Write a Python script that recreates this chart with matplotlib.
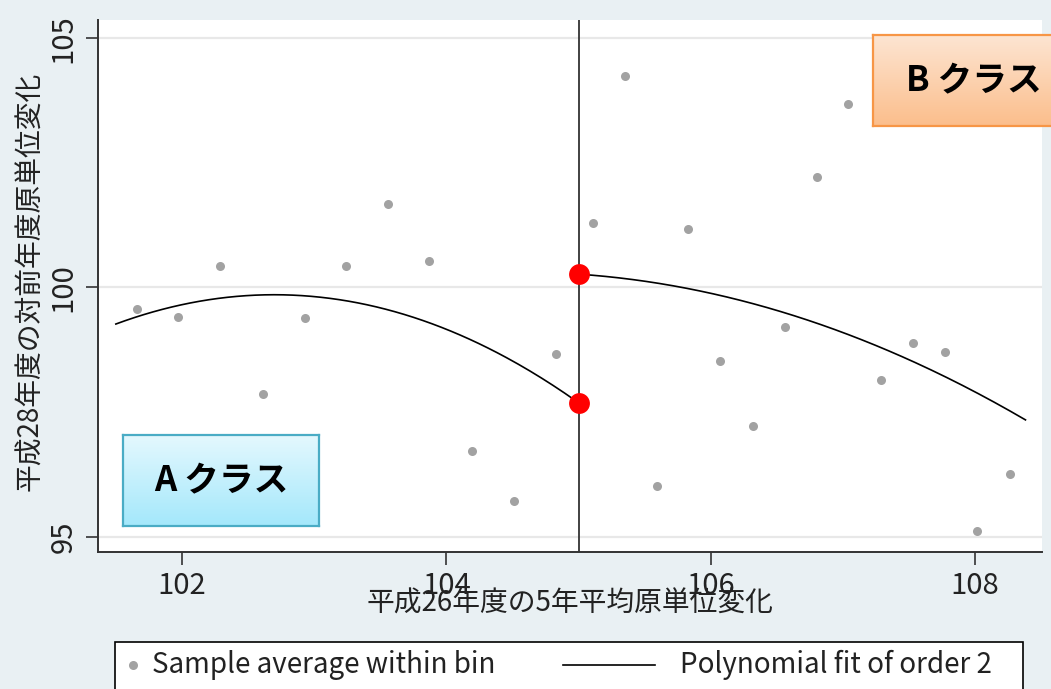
import numpy as np
import matplotlib
matplotlib.use('Agg')
import matplotlib.pyplot as plt
from matplotlib.colors import to_rgb
from matplotlib.patches import Rectangle
from matplotlib.lines import Line2D

plt.rcParams['font.family'] = ['Noto Sans CJK JP', 'DejaVu Sans']

# bin averages left / right of the cutoff
bin_x_a = [101.66, 101.97, 102.29, 102.61, 102.93, 103.24, 103.56, 103.87, 104.19, 104.51, 104.83]
bin_y_a = [99.57, 99.41, 100.43, 97.86, 99.39, 100.43, 101.67, 100.53, 96.72, 95.71, 98.66]
bin_x_b = [105.11, 105.35, 105.59, 105.83, 106.07, 106.32, 106.56, 106.80, 107.04,
           107.29, 107.53, 107.77, 108.01, 108.26]
bin_y_b = [101.29, 104.25, 96.01, 101.17, 98.53, 97.22, 99.21, 102.22, 103.68,
           98.14, 98.88, 98.70, 95.12, 96.25]

# points along the order-2 fits
fit_x_a = [101.50, 101.97, 102.64, 103.24, 103.86, 104.18, 104.56, 105.0]
fit_y_a = [99.26, 99.65, 99.85, 99.73, 99.28, 99.00, 98.41, 97.69]
fit_x_b = [105.0, 105.77, 106.17, 106.52, 107.28, 108.38]
fit_y_b = [100.27, 100.00, 99.79, 99.51, 98.81, 97.34]

cutoff = 105.0
x_ticks = [102, 104, 106, 108]
y_ticks = [95, 100, 105]

W, H = 1051, 689
bg = '#e9f0f3'
dot_gray = '#a2a2a2'
dark = '#333333'


def fx(px):
    return px / W


def fy(py):
    return 1 - py / H


def class_box(fig, x0, x1, y0, y1, top, bottom, edge, label):
    bax = fig.add_axes([fx(x0), fy(y1), fx(x1 - x0), (y1 - y0) / H])
    c0, c1 = np.array(to_rgb(top)), np.array(to_rgb(bottom))
    t = np.linspace(0, 1, 64)[:, None]
    grad = c0 + (c1 - c0) * t
    bax.imshow(grad[:, None, :], aspect='auto', extent=(0, 1, 0, 1), origin='upper')
    bax.set_xticks([])
    bax.set_yticks([])
    for s in bax.spines.values():
        s.set_color(edge)
        s.set_linewidth(1.6)
    bax.text(0.5, 0.5, label, transform=bax.transAxes, ha='center', va='center',
             fontsize=25, fontweight='bold', color='black')


fig = plt.figure(figsize=(W / 100, H / 100), dpi=100, facecolor=bg)
ax = fig.add_axes([fx(98), fy(552), fx(1042 - 98), (552 - 20) / H])
ax.set_facecolor('white')

ax.set_xlim(101.365, 108.505)
ax.set_ylim(94.69, 105.37)
ax.set_xticks(x_ticks)
ax.set_yticks(y_ticks)
ax.grid(axis='y', color='#e8e8e8', lw=1.6)
ax.set_axisbelow(True)

for side in ['top', 'right']:
    ax.spines[side].set_visible(False)
for side in ['left', 'bottom']:
    ax.spines[side].set_color(dark)
    ax.spines[side].set_linewidth(1.4)

ax.tick_params(length=9, width=1.2, color=dark, labelsize=21, labelcolor='#222222', pad=5)
plt.setp(ax.get_yticklabels(), rotation=90, va='center')

ax.axvline(cutoff, color=dark, lw=1.3, zorder=2)

ax.plot(bin_x_a, bin_y_a, 'o', ms=6.5, color=dot_gray, mec='none', zorder=3)
ax.plot(bin_x_b, bin_y_b, 'o', ms=6.5, color=dot_gray, mec='none', zorder=3)

# quadratic fit on each side of the cutoff
coef_a = np.polyfit(fit_x_a, fit_y_a, 2)
coef_b = np.polyfit(fit_x_b, fit_y_b, 2)
xa = np.linspace(fit_x_a[0], fit_x_a[-1], 200)
xb = np.linspace(fit_x_b[0], fit_x_b[-1], 200)
ax.plot(xa, np.polyval(coef_a, xa), color='black', lw=1.2, zorder=4)
ax.plot(xb, np.polyval(coef_b, xb), color='black', lw=1.2, zorder=4)

# fitted values at the cutoff
ax.plot([cutoff, cutoff], [np.polyval(coef_a, cutoff), np.polyval(coef_b, cutoff)],
        'o', ms=15, color='red', mec='none', zorder=5, clip_on=False)

ax.set_xlabel('平成26年度の5年平均原単位変化', fontsize=20, color='#222222')
ax.xaxis.set_label_coords(0.5, -(604 - 552) / 532)
ax.xaxis.label.set_va('center')
ax.set_ylabel('平成28年度の対前年度原単位変化', fontsize=20, color='#222222')
ax.yaxis.set_label_coords((30 - 98) / 944, (552 - 281) / 532)
ax.yaxis.label.set_va('center')

# legend strip along the bottom
ly = fy(665)
fig.add_artist(Rectangle((fx(115), fy(692)), fx(908), 50 / H, transform=fig.transFigure,
                         facecolor='white', edgecolor='black', lw=1.2))
fig.add_artist(Line2D([fx(133)], [ly], transform=fig.transFigure, marker='o', ms=6.5,
                      color=dot_gray, mec='none', ls='none'))
fig.text(fx(152), ly, 'Sample average within bin', fontsize=20, va='center', color='#222222')
fig.add_artist(Line2D([fx(563), fx(655)], [ly, ly], transform=fig.transFigure,
                      color='black', lw=1.2))
fig.text(fx(680), ly, 'Polynomial fit of order 2', fontsize=20, va='center', color='#222222')

class_box(fig, 123, 319, 435, 526, '#e4f8fe', '#a4e8fb', '#4aacc5', 'A クラス')
class_box(fig, 873, 1074, 35, 126, '#fde5d2', '#fbbe8c', '#f79646', 'B クラス')

fig.savefig('out.png', dpi=100, facecolor=bg)
